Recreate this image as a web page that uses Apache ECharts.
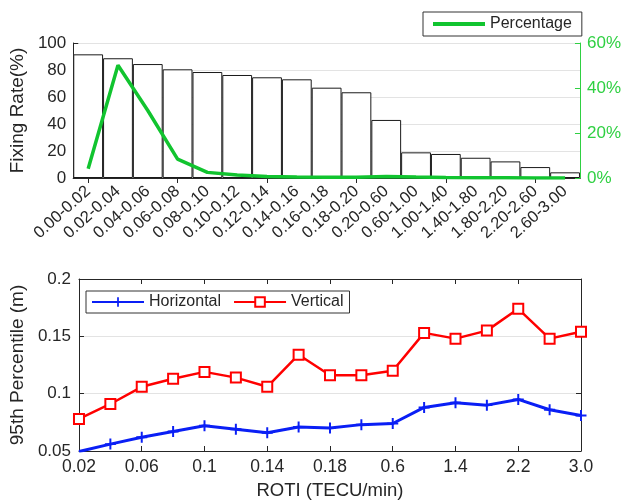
<!DOCTYPE html>
<html>
<head>
<meta charset="utf-8">
<script src="https://cdn.jsdelivr.net/npm/echarts@6/dist/echarts.min.js"></script>
<style>
html,body{margin:0;padding:0;background:#fff;}
#chart{width:624px;height:503px;}
</style>
</head>
<body>
<div id="chart"></div>
<script>
// ---- Data ----
const fixCategories = ['0.00-0.02','0.02-0.04','0.04-0.06','0.06-0.08','0.08-0.10','0.10-0.12','0.12-0.14','0.14-0.16','0.16-0.18','0.18-0.20','0.20-0.60','0.60-1.00','1.00-1.40','1.40-1.80','1.80-2.20','2.20-2.60','2.60-3.00'];
const fixingRate = [91.6, 88.7, 84.4, 80.5, 78.5, 76.3, 74.6, 73.1, 66.9, 63.5, 43.0, 19.0, 17.8, 15.0, 12.3, 8.1, 4.2];
const percentage = [4.1, 50.1, 30.0, 8.4, 2.5, 1.3, 0.7, 0.4, 0.3, 0.3, 0.7, 0.4, 0.2, 0.1, 0.1, 0.05, 0.03];

const rotiLabels = ['0.02','0.04','0.06','0.08','0.1','0.12','0.14','0.16','0.18','0.2','0.6','1.0','1.4','1.8','2.2','2.6','3.0'];
const horizontal = [0.0495, 0.056, 0.062, 0.067, 0.072, 0.069, 0.066, 0.071, 0.070, 0.073, 0.074, 0.088, 0.092, 0.090, 0.095, 0.086, 0.081];
const vertical = [0.078, 0.091, 0.106, 0.113, 0.119, 0.114, 0.106, 0.134, 0.116, 0.116, 0.120, 0.153, 0.148, 0.155, 0.174, 0.148, 0.154];

const fixTicks = [0, 20, 40, 60, 80, 100];
const pctTicks = [0, 20, 40, 60];
const p95Ticks = [0.05, 0.1, 0.15, 0.2];

// ---- Style ----
const FONT = "'Liberation Sans', Arial, Helvetica, sans-serif";
const DARK = '#262626';
const GREEN_LINE = '#11c42f';
const GREEN_TXT = '#2fd042';
const GRIDC = '#e3e3e3';
const PLUS = 'path://M4.1,0 L5.9,0 L5.9,4.1 L10,4.1 L10,5.9 L5.9,5.9 L5.9,10 L4.1,10 L4.1,5.9 L0,5.9 L0,4.1 L4.1,4.1 Z';
const LINE_ICON = 'path://M0,0 L52,0 L52,4 L0,4 Z';

const chart = echarts.init(document.getElementById('chart'), null, {renderer: 'canvas'});

const axisLine = {show: true, lineStyle: {color: DARK, width: 1}};
const tickStyle = {show: true, inside: true, length: 5, lineStyle: {color: DARK}};

chart.setOption({
  animation: false,
  backgroundColor: '#fff',
  textStyle: {fontFamily: FONT},
  legend: [
    {
      data: [{name: 'Percentage', icon: LINE_ICON}],
      left: 423, top: 12,
      padding: [4, 10, 4, 10],
      borderColor: '#333', borderWidth: 1,
      itemWidth: 52, itemHeight: 4,
      textStyle: {color: DARK, fontFamily: FONT, fontSize: 16}
    },
    {
      data: ['Horizontal', 'Vertical'],
      left: 86, top: 291,
      padding: [3, 6, 3, 5],
      itemGap: 12,
      borderColor: '#333', borderWidth: 1,
      itemWidth: 52, itemHeight: 12,
      textStyle: {color: DARK, fontFamily: FONT, fontSize: 16}
    }
  ],
  grid: [
    {left: 72, right: 43, top: 43, height: 135},
    {left: 72, right: 43, top: 279, height: 172}
  ],
  xAxis: [
    {
      gridIndex: 0, type: 'category', data: fixCategories, boundaryGap: true,
      axisLine: axisLine,
      axisTick: Object.assign({alignWithLabel: true}, tickStyle),
      axisLabel: {rotate: 42, interval: 0, margin: 11, color: DARK, fontFamily: FONT, fontSize: 16.5},
      splitLine: {show: false}
    },
    {
      gridIndex: 0, type: 'category', data: fixCategories, boundaryGap: true, position: 'top',
      axisLine: axisLine,
      axisTick: Object.assign({alignWithLabel: true}, tickStyle),
      axisLabel: {show: false},
      splitLine: {show: false}
    },
    {
      gridIndex: 1, type: 'category', data: rotiLabels, boundaryGap: false,
      name: 'ROTI (TECU/min)', nameLocation: 'middle', nameGap: 30,
      nameTextStyle: {color: DARK, fontFamily: FONT, fontSize: 18.5},
      axisLine: axisLine,
      axisTick: Object.assign({interval: 1}, tickStyle),
      axisLabel: {interval: 1, margin: 7, color: DARK, fontFamily: FONT, fontSize: 17.5},
      splitLine: {show: false}
    },
    {
      gridIndex: 1, type: 'category', data: rotiLabels, boundaryGap: false, position: 'top',
      axisLine: axisLine,
      axisTick: Object.assign({interval: 1}, tickStyle),
      axisLabel: {show: false},
      splitLine: {show: false}
    }
  ],
  yAxis: [
    {
      gridIndex: 0, type: 'value', min: fixTicks[0], max: fixTicks[fixTicks.length - 1], interval: 20,
      name: 'Fixing Rate(%)', nameLocation: 'middle', nameGap: 44,
      nameTextStyle: {color: DARK, fontFamily: FONT, fontSize: 19},
      axisLine: axisLine,
      axisTick: tickStyle,
      axisLabel: {margin: 7, color: DARK, fontFamily: FONT, fontSize: 17},
      splitLine: {show: true, lineStyle: {color: GRIDC, width: 1}}
    },
    {
      gridIndex: 0, type: 'value', min: pctTicks[0], max: pctTicks[pctTicks.length - 1], interval: 20,
      position: 'right',
      axisLine: {show: true, lineStyle: {color: GREEN_TXT, width: 1}},
      axisTick: {show: true, inside: true, length: 5, lineStyle: {color: GREEN_TXT}},
      axisLabel: {color: GREEN_TXT, fontFamily: FONT, fontSize: 17, margin: 7, formatter: '{value}%'},
      splitLine: {show: false}
    },
    {
      gridIndex: 1, type: 'value', min: p95Ticks[0], max: p95Ticks[p95Ticks.length - 1], interval: 0.05,
      name: '95th Percentile (m)', nameLocation: 'middle', nameGap: 50,
      nameTextStyle: {color: DARK, fontFamily: FONT, fontSize: 19},
      axisLine: axisLine,
      axisTick: tickStyle,
      axisLabel: {margin: 8, color: DARK, fontFamily: FONT, fontSize: 17, formatter: v => String(Math.round(v * 100) / 100)},
      splitLine: {show: true, lineStyle: {color: GRIDC, width: 1}}
    },
    {
      gridIndex: 1, type: 'value', min: p95Ticks[0], max: p95Ticks[p95Ticks.length - 1], interval: 0.05,
      position: 'right',
      axisLine: axisLine,
      axisTick: tickStyle,
      axisLabel: {show: false},
      splitLine: {show: false}
    }
  ],
  series: [
    {
      name: 'Fixing Rate', type: 'bar', xAxisIndex: 0, yAxisIndex: 0,
      data: fixingRate, barWidth: '100%', barGap: '0%', barCategoryGap: '0%',
      itemStyle: {color: '#ffffff', borderColor: '#1a1a1a', borderWidth: 1},
      z: 2
    },
    {
      name: 'Percentage', type: 'line', xAxisIndex: 0, yAxisIndex: 1,
      data: percentage, symbol: 'none', showSymbol: false,
      lineStyle: {color: GREEN_LINE, width: 3.5},
      itemStyle: {color: GREEN_LINE},
      z: 5
    },
    {
      name: 'Horizontal', type: 'line', xAxisIndex: 2, yAxisIndex: 2,
      data: horizontal, symbol: PLUS, symbolSize: 11, showSymbol: true,
      lineStyle: {color: '#0a1ff5', width: 3},
      itemStyle: {color: '#0a1ff5'},
      z: 5
    },
    {
      name: 'Vertical', type: 'line', xAxisIndex: 2, yAxisIndex: 2,
      data: vertical, symbol: 'emptyRect', symbolSize: 10, showSymbol: true,
      lineStyle: {color: '#ff0000', width: 2.5},
      itemStyle: {color: '#ff0000', borderColor: '#ff0000', borderWidth: 2.5},
      z: 5
    }
  ]
});
</script>
</body>
</html>
